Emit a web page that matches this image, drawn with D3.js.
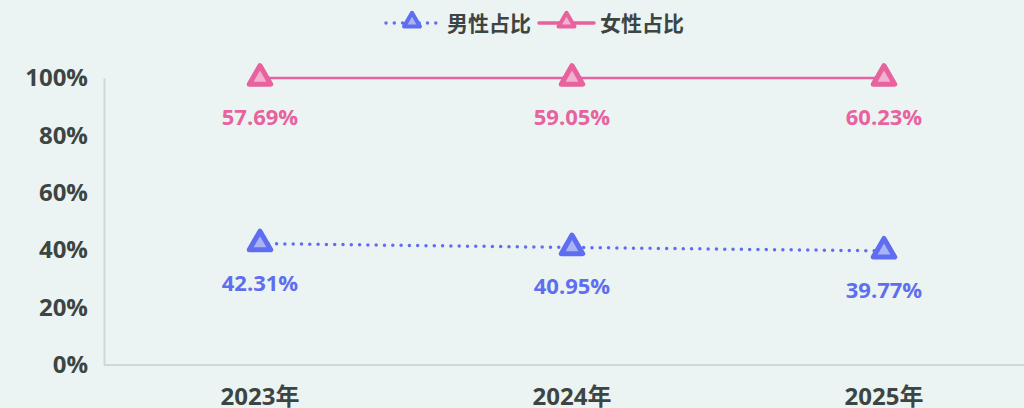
<!DOCTYPE html>
<html>
<head>
<meta charset="utf-8">
<script src="https://cdn.jsdelivr.net/npm/d3@7"></script>
<style>
  html, body { margin: 0; padding: 0; background: #ebf4f2; }
  svg { display: block; font-family: "Open Sans", "Noto Sans CJK SC", sans-serif; }
</style>
</head>
<body>
<div id="chart"></div>
<script>
const years = ["2023年", "2024年", "2025年"];
const maleShare = [42.31, 40.95, 39.77];
const femaleShare = [57.69, 59.05, 60.23];
const yTicks = [0, 20, 40, 60, 80, 100];
const seriesNames = ["男性占比", "女性占比"];

const w = 1024, h = 408;
const padLeft = 104, padTop = 78, padBottom = 365;
const bandW = 312;
const textColor = "#3d4543";

const svg = d3.select("#chart").append("svg")
  .attr("width", w).attr("height", h);

const x = d3.scalePoint()
  .domain(years)
  .range([padLeft + bandW / 2, padLeft + bandW * 2.5]);

const y = d3.scaleLinear().domain([0, 100]).range([padBottom, padTop]);

// axes
const yAxis = d3.axisLeft(y).tickValues(yTicks).tickFormat(d => d + "%").tickSize(0).tickPadding(16);
const gy = svg.append("g").attr("transform", `translate(${padLeft},0)`).call(yAxis);
gy.select(".domain").attr("stroke", "#cfd8d6").attr("stroke-width", 2);
gy.selectAll("text").attr("fill", textColor).attr("font-size", 24).attr("font-weight", "bold")
  .attr("font-family", "'Open Sans', sans-serif");

svg.append("line")
  .attr("x1", padLeft).attr("x2", w)
  .attr("y1", padBottom).attr("y2", padBottom)
  .attr("stroke", "#cfd8d6").attr("stroke-width", 2);

svg.append("g").selectAll("text")
  .data(years).enter().append("text")
  .attr("x", d => x(d)).attr("y", 405)
  .attr("text-anchor", "middle")
  .attr("fill", textColor).attr("font-size", 24).attr("font-weight", "bold")
  .text(d => d);

// stacked values
const stacked = [
  maleShare.map((v, i) => ({ year: years[i], val: v, cum: v })),
  femaleShare.map((v, i) => ({ year: years[i], val: v, cum: v + maleShare[i] }))
];
const colors = ["#5f6ef0", "#e8629f"];
const fills = ["#aab3f4", "#f0b2cf"];
const dashes = ["0,8.3", null];

const tri = d3.symbol().type(d3.symbolTriangle).size(200);

const line = d3.line().x(d => x(d.year)).y(d => y(d.cum));

stacked.forEach((s, k) => {
  svg.append("path")
    .datum(s)
    .attr("d", line)
    .attr("fill", "none")
    .attr("stroke", colors[k])
    .attr("stroke-width", k === 0 ? 3.5 : 2.5)
    .attr("stroke-linecap", "round")
    .attr("stroke-dasharray", dashes[k]);

  svg.append("g").selectAll("path")
    .data(s).enter().append("path")
    .attr("d", tri)
    .attr("transform", d => `translate(${x(d.year)},${y(d.cum)})`)
    .attr("fill", fills[k])
    .attr("stroke", colors[k])
    .attr("stroke-width", 5)
    .attr("stroke-linejoin", "round");

  svg.append("g").selectAll("text")
    .data(s).enter().append("text")
    .attr("x", d => x(d.year))
    .attr("y", d => y(d.cum) + 47)
    .attr("text-anchor", "middle")
    .attr("fill", colors[k]).attr("font-size", 22).attr("font-weight", "bold")
    .text(d => d.val.toFixed(2) + "%");
});

// legend
const legend = [
  { name: seriesNames[0], x0: 386, x1: 438, tx: 447 },
  { name: seriesNames[1], x0: 539, x1: 594, tx: 600 }
];
legend.forEach((l, k) => {
  const g = svg.append("g");
  g.append("line")
    .attr("x1", l.x0).attr("x2", l.x1)
    .attr("y1", 23).attr("y2", 23)
    .attr("stroke", colors[k]).attr("stroke-width", 3.5)
    .attr("stroke-linecap", "round")
    .attr("stroke-dasharray", dashes[k]);
  g.append("path")
    .attr("d", d3.symbol().type(d3.symbolTriangle).size(110))
    .attr("transform", `translate(${(l.x0 + l.x1) / 2},22)`)
    .attr("fill", fills[k]).attr("stroke", colors[k]).attr("stroke-width", 4)
    .attr("stroke-linejoin", "round");
  g.append("text")
    .attr("x", l.tx).attr("y", 31)
    .attr("fill", textColor).attr("font-size", 21).attr("font-weight", "bold")
    .text(l.name);
});
</script>
</body>
</html>
